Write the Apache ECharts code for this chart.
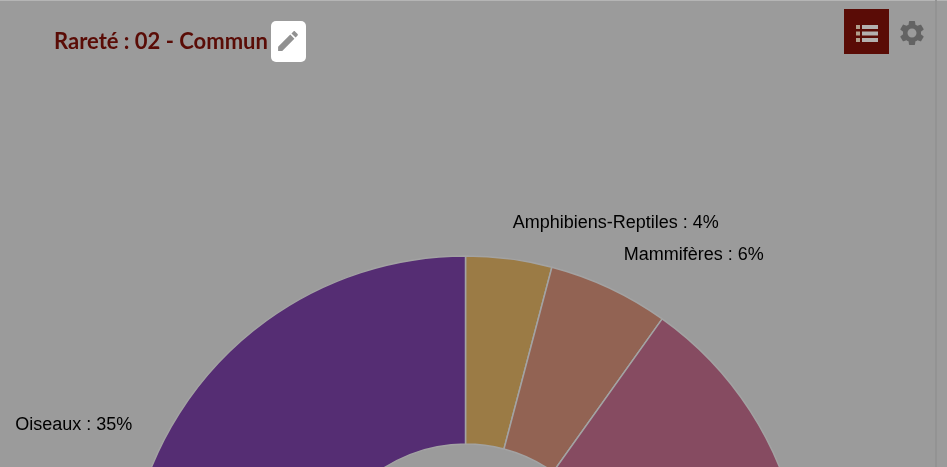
<!DOCTYPE html>
<html>
<head>
<meta charset="utf-8">
<style>
  html, body { margin: 0; padding: 0; background: #9b9b9b; overflow: hidden; }
  #main { width: 947px; height: 467px; }
</style>
<script src="https://cdn.jsdelivr.net/npm/echarts@6/dist/echarts.min.js"></script>
</head>
<body>
<div id="main"></div>
<script>
const chartTitle = "Rareté : 02 - Commun";
const categories = ["Amphibiens-Reptiles", "Mammifères", "Autres", "Oiseaux"];
const shownPercent = [4, 6, null, 35];
const values = [4.1, 5.75, 55.15, 35];
const colors = ["#9b7b45", "#926353", "#864b61", "#552d73"];

const editIcon = "M3 17.25V21h3.75L17.81 9.94l-3.75-3.75L3 17.25zM20.71 7.04c.39-.39.39-1.02 0-1.41l-2.34-2.34c-.39-.39-1.02-.39-1.41 0l-1.83 1.83 3.75 3.75 1.83-1.83z";
const gearIcon = "M19.14 12.94c.04-.3.06-.61.06-.94 0-.32-.02-.64-.07-.94l2.03-1.58c.18-.14.23-.41.12-.61l-1.92-3.32c-.12-.22-.37-.29-.59-.22l-2.39.96c-.5-.38-1.03-.7-1.62-.94l-.36-2.54c-.04-.24-.24-.41-.48-.41h-3.84c-.24 0-.43.17-.47.41l-.36 2.54c-.59.24-1.13.57-1.62.94l-2.39-.96c-.22-.08-.47 0-.59.22L2.74 8.87c-.12.21-.08.47.12.61l2.03 1.58c-.05.3-.09.63-.09.94s.02.64.07.94l-2.03 1.58c-.18.14-.23.41-.12.61l1.92 3.32c.12.22.37.29.59.22l2.39-.96c.5.38 1.03.7 1.62.94l.36 2.54c.05.24.24.41.48.41h3.84c.24 0 .44-.17.47-.41l.36-2.54c.59-.24 1.13-.56 1.62-.94l2.39.96c.22.08.47 0 .59-.22l1.92-3.32c.12-.22.07-.47-.12-.61l-2.01-1.58zM12 15.6c-1.98 0-3.6-1.62-3.6-3.6s1.62-3.6 3.6-3.6 3.6 1.62 3.6 3.6-1.62 3.6-3.6 3.6z";

// le composant graphic ne connait pas "path", on enregistre les icones
echarts.graphic.registerShape("editIcon", echarts.graphic.extendPath(editIcon, {}));
echarts.graphic.registerShape("gearIcon", echarts.graphic.extendPath(gearIcon, {}));

let myChart = echarts.init(document.getElementById("main"));

let pieData = categories.map((name, i) => ({
  name: name,
  value: values[i],
  itemStyle: { color: colors[i] },
  label: { show: shownPercent[i] !== null }
}));

// petits rectangles de la barre d'outils
let listBars = [0, 1, 2].flatMap(i => [
  { type: "rect", z: 12, shape: { x: 856, y: 25 + i * 6.5, width: 4, height: 4 }, style: { fill: "#b0a08c" } },
  { type: "rect", z: 12, shape: { x: 862, y: 25 + i * 6.5, width: 16, height: 4 }, style: { fill: "#b3b0ae" } }
]);

let option = {
  animation: false,
  backgroundColor: "#9b9b9b",
  series: [
    {
      type: "pie",
      center: [465.5, 595],
      radius: [151, 339],
      clockwise: true,
      startAngle: 90,
      avoidLabelOverlap: false,
      data: pieData,
      itemStyle: { borderColor: "#a3a3a3", borderWidth: 1.5 },
      label: {
        position: "outside",
        color: "#000",
        fontFamily: "Liberation Sans",
        fontSize: 18,
        distanceToLabelLine: -1,
        formatter: p => p.name + " : " + shownPercent[p.dataIndex] + "%"
      },
      labelLine: { show: false, length: 36, length2: 0 }
    }
  ],
  graphic: [
    { type: "rect", z: 1, shape: { x: 0, y: 0, width: 947, height: 1 }, style: { fill: "#b5b5b5" } },
    { type: "rect", z: 1, shape: { x: 935, y: 0, width: 2, height: 467 }, style: { fill: "#939393" } },
    {
      type: "text", z: 10, x: 54, y: 31,
      style: { text: chartTitle, fill: "#5a0c06", font: "bold 22px Lato" }
    },
    { type: "rect", z: 10, shape: { x: 271, y: 21, width: 35, height: 41, r: 5 }, style: { fill: "#fff" } },
    { type: "editIcon", z: 11, x: 274.8, y: 27.8, scaleX: 1.1, scaleY: 1.1, style: { fill: "#919191" } },
    { type: "rect", z: 10, shape: { x: 844, y: 9, width: 45, height: 45 }, style: { fill: "#5a0c06" } },
    ...listBars,
    { type: "gearIcon", z: 11, x: 897, y: 18, scaleX: 1.25, scaleY: 1.25, style: { fill: "#636363" } }
  ]
};

myChart.setOption(option);
</script>
</body>
</html>
